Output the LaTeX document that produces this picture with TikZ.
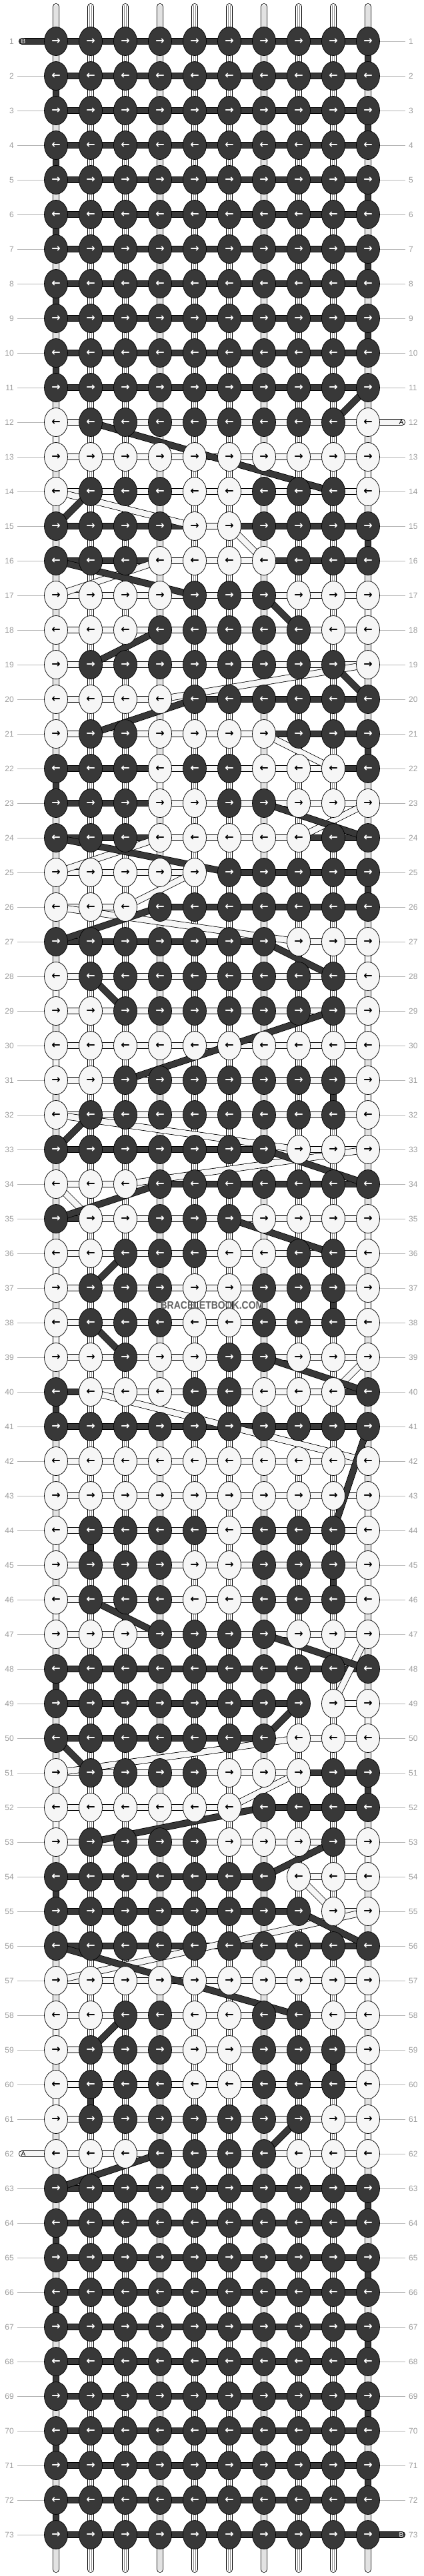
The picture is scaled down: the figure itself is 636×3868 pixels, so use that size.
\documentclass[tikz,border=0pt]{standalone}
\usepackage{fontspec}
\setmainfont{Liberation Sans}
\newfontfamily\arrowfont{DejaVu Sans Bold}
\usetikzlibrary{shapes.geometric,backgrounds}

\definecolor{KnotDark}{HTML}{383838}
\definecolor{KnotLight}{HTML}{F6F6F6}
\definecolor{NumGray}{HTML}{9C9C9C}
\definecolor{TickGray}{HTML}{B4B4B4}

\pgfdeclarelayer{warp}
\pgfsetlayers{warp,background,main}

\begin{document}
\begin{tikzpicture}[x=1pt,y=-1pt]
	\tikzstyle{Knot}    = [ellipse, draw=black, line width=0.7pt, minimum width=35pt, minimum height=43pt, inner sep=0pt, font=\arrowfont\fontsize{16}{16}\selectfont]
	\tikzstyle{StrandB} = [draw=black, line width=0.8pt, double=KnotDark, double distance=8.6pt]
	\tikzstyle{StrandA} = [draw=black, line width=0.8pt, double=KnotLight, double distance=8.6pt]
	\tikzstyle{Warp}    = [draw=black, line width=0.8pt, double=white, double distance=8.4pt, line cap=round]
	\tikzstyle{WarpIn}  = [draw=black!45, line width=0.45pt, double=white, double distance=2.8pt]
	\tikzstyle{RowNum}  = [text=NumGray, font=\fontsize{12}{12}\selectfont, inner sep=0pt]
	\tikzstyle{Tick}    = [TickGray, line width=0.8pt]
	\tikzstyle{TipText} = [font=\fontsize{10}{10}\selectfont, inner sep=0pt]
	\tikzstyle{Mark}    = [text=black!62, font=\bfseries\fontsize{16}{16}\selectfont, xscale=0.875, inner sep=0pt]

	\begin{pgfonlayer}{warp}
		\fill[white] (0,0) rectangle (636,3868);
		\useasboundingbox (0,0) rectangle (636,3868);
		% the ten warp threads
		\foreach \c in {1,...,10} {
			\coordinate (wt-\c) at ({84+52*(\c-1)},10);
			\coordinate (wb-\c) at ({84+52*(\c-1)},3858);
			\draw[Warp] (wt-\c) -- (wb-\c);
			\draw[WarpIn] ([yshift=2pt]wt-\c) -- ([yshift=-2pt]wb-\c);
		}
	\end{pgfonlayer}

	% plain dark rows at both ends
	\foreach \r in {1,...,73} {
		\pgfmathtruncatemacro\plain{(\r<12)||(\r>62)}
		\ifnum\plain=1
			\ifodd\r \def\ar{→}\else \def\ar{←}\fi
			\foreach \c in {1,...,10}
				\node[Knot, fill=KnotDark, text=white] (k-\r-\c) at ({84+52*(\c-1)},{62+52*(\r-1)}) {\ar};
			\begin{pgfonlayer}{background}
				\draw[StrandB] (k-\r-1.center) -- (k-\r-10.center);
			\end{pgfonlayer}
		\fi
	}

	% row / colours (1 = dark) / span of A / span of B
	\foreach \r/\pat/\amin/\amax/\bmin/\bmax in {
		12/{0,1,1,1,1,1,1,1,1,0}/1/10/2/9,
		13/{0,0,0,0,0,0,0,0,0,0}/1/10/0/0,
		14/{0,1,1,1,0,0,1,1,1,0}/1/10/2/9,
		15/{1,1,1,1,0,0,1,1,1,1}/5/6/1/10,
		16/{1,1,1,0,0,0,0,1,1,1}/4/7/1/10,
		17/{0,0,0,0,1,1,1,0,0,0}/1/10/5/7,
		18/{0,0,0,1,1,1,1,1,0,0}/1/10/4/8,
		19/{0,1,1,1,1,1,1,1,1,0}/1/10/2/9,
		20/{0,0,0,0,1,1,1,1,1,1}/1/4/5/10,
		21/{0,1,1,0,0,0,0,1,1,1}/1/7/2/10,
		22/{1,1,1,0,1,1,0,0,0,1}/4/9/1/10,
		23/{1,1,1,0,0,1,1,0,0,0}/4/10/1/7,
		24/{1,1,1,0,0,0,0,0,1,1}/4/8/1/10,
		25/{0,0,0,0,0,1,1,1,1,1}/1/5/6/10,
		26/{0,0,0,1,1,1,1,1,1,1}/1/3/4/10,
		27/{1,1,1,1,1,1,1,0,0,0}/8/10/1/7,
		28/{0,1,1,1,1,1,1,1,1,0}/1/10/2/9,
		29/{0,0,1,1,1,1,1,1,1,0}/1/10/3/9,
		30/{0,0,0,0,0,0,0,0,0,0}/1/10/0/0,
		31/{0,0,1,1,1,1,1,1,1,0}/1/10/3/9,
		32/{0,1,1,1,1,1,1,1,1,0}/1/10/2/9,
		33/{1,1,1,1,1,1,1,0,0,0}/8/10/1/7,
		34/{0,0,0,1,1,1,1,1,1,1}/1/3/4/10,
		35/{1,0,0,1,1,1,0,0,0,0}/2/10/1/6,
		36/{0,0,1,1,1,0,0,1,1,0}/1/10/3/9,
		37/{0,1,1,1,0,0,1,1,1,0}/1/10/2/9,
		38/{0,1,1,1,0,0,1,1,1,0}/1/10/2/9,
		39/{0,0,1,0,0,1,1,0,0,0}/1/10/3/7,
		40/{1,0,0,0,1,1,0,0,0,1}/2/9/1/10,
		41/{1,1,1,1,1,1,1,1,1,1}/0/0/1/10,
		42/{0,0,0,0,0,0,0,0,0,0}/1/10/0/0,
		43/{0,0,0,0,0,0,0,0,0,0}/1/10/0/0,
		44/{0,1,1,1,1,0,1,1,1,0}/1/10/2/9,
		45/{0,1,1,1,0,0,1,1,1,0}/1/10/2/9,
		46/{0,1,1,1,0,0,1,1,1,0}/1/10/2/9,
		47/{0,0,0,1,1,1,1,0,0,0}/1/10/4/7,
		48/{1,1,1,1,1,1,1,1,1,1}/0/0/1/10,
		49/{1,1,1,1,1,1,1,1,0,0}/9/10/1/8,
		50/{1,1,1,1,1,1,1,0,0,0}/8/10/1/7,
		51/{0,1,1,1,1,0,0,0,1,1}/1/8/2/10,
		52/{0,0,0,0,0,0,1,1,1,1}/1/6/7/10,
		53/{0,1,1,1,1,0,0,0,1,0}/1/10/2/9,
		54/{1,1,1,1,1,1,1,0,0,0}/8/10/1/7,
		55/{1,1,1,1,1,1,1,1,0,0}/9/10/1/8,
		56/{1,1,1,1,1,1,1,1,1,1}/0/0/1/10,
		57/{0,0,0,0,0,0,0,0,0,0}/1/10/0/0,
		58/{0,0,1,1,0,0,1,1,0,0}/1/10/3/8,
		59/{0,1,1,1,0,0,1,1,1,0}/1/10/2/9,
		60/{0,1,1,1,0,0,1,1,1,0}/1/10/2/9,
		61/{0,1,1,1,1,1,1,1,0,0}/1/10/2/8,
		62/{0,0,0,1,1,1,1,0,0,0}/1/10/4/7}{
		\ifodd\r \def\ar{→}\else \def\ar{←}\fi
		\foreach \v [count=\c] in \pat {
			\ifnum\v=1 \def\kf{KnotDark}\def\kt{white}\else \def\kf{KnotLight}\def\kt{black}\fi
			\node[Knot, fill=\kf, text=\kt] (k-\r-\c) at ({84+52*(\c-1)},{62+52*(\r-1)}) {\ar};
		}
		\begin{pgfonlayer}{background}
			\ifnum\bmin>0 \draw[StrandB] (k-\r-\bmin.center) -- (k-\r-\bmax.center); \fi
			\ifnum\amin>0 \draw[StrandA] (k-\r-\amin.center) -- (k-\r-\amax.center); \fi
		\end{pgfonlayer}
	}

	\begin{pgfonlayer}{background}
		% strand A from row to row
		\foreach \ra/\ca/\rb/\cb in {12/1/13/1, 13/10/14/10, 14/1/15/5, 15/6/16/7, 16/4/17/1, 17/10/18/10,
			18/1/19/1, 19/10/20/4, 20/1/21/1, 21/7/22/9, 22/4/23/4, 23/10/24/8, 24/4/25/1, 25/5/26/3,
			26/1/27/8, 27/10/28/10, 28/1/29/1, 29/10/30/10, 30/1/31/1, 31/10/32/10, 32/1/33/8, 33/10/34/3,
			34/1/35/2, 35/10/36/10, 36/1/37/1, 37/10/38/10, 38/1/39/1, 39/10/40/9, 40/2/42/10, 42/1/43/1,
			43/10/44/10, 44/1/45/1, 45/10/46/10, 46/1/47/1, 47/10/49/9, 49/10/50/10, 50/8/51/1, 51/8/52/6,
			52/1/53/1, 53/10/54/10, 54/8/55/9, 55/10/57/1, 57/10/58/10, 58/1/59/1, 59/10/60/10, 60/1/61/1,
			61/10/62/10}
			\draw[StrandA] (k-\ra-\ca.center) -- (k-\rb-\cb.center);
		% strand B from row to row
		\foreach \ra/\ca/\rb/\cb in {1/10/2/10, 2/1/3/1, 3/10/4/10, 4/1/5/1, 5/10/6/10, 6/1/7/1, 7/10/8/10,
			8/1/9/1, 9/10/10/10, 10/1/11/1, 11/10/12/9, 12/2/14/9, 14/2/15/1, 15/10/16/10, 16/1/17/5,
			17/7/18/8, 18/4/19/2, 19/9/20/10, 20/5/21/2, 21/10/22/10, 22/1/23/1, 23/7/24/10, 24/1/25/6,
			25/10/26/10, 26/4/27/1, 27/7/28/9, 28/2/29/3, 29/9/31/3, 31/9/32/9, 32/2/33/1, 33/7/34/10,
			34/4/35/1, 35/6/36/9, 36/3/37/2, 37/9/38/9, 38/2/39/3, 39/7/40/10, 40/1/41/1, 41/10/44/9,
			44/2/45/2, 45/9/46/9, 46/2/47/4, 47/7/48/10, 48/1/49/1, 49/8/50/7, 50/1/51/2, 51/10/52/10,
			52/7/53/2, 53/9/54/7, 54/1/55/1, 55/8/56/10, 56/1/58/8, 58/3/59/2, 59/9/60/9, 60/2/61/2,
			61/8/62/7, 62/4/63/1, 63/10/64/10, 64/1/65/1, 65/10/66/10, 66/1/67/1, 67/10/68/10, 68/1/69/1,
			69/10/70/10, 70/1/71/1, 71/10/72/10, 72/1/73/1}
			\draw[StrandB] (k-\ra-\ca.center) -- (k-\rb-\cb.center);

		% loose ends
		\coordinate (tipB-in) at (33,62);
		\coordinate (tipB-out) at (603,3806);
		\coordinate (tipA-in) at (603,634);
		\coordinate (tipA-out) at (33,3234);
		\draw[StrandB, line cap=round] (tipB-in) -- (k-1-1.center);
		\draw[StrandB, line cap=round] (k-73-10.center) -- (tipB-out);
		\draw[StrandA, line cap=round] (tipA-in) -- (k-12-10.center);
		\draw[StrandA, line cap=round] (k-62-1.center) -- (tipA-out);
	\end{pgfonlayer}

	\node[TipText, text=white] (endB-in) at (35,62) {B};
	\node[TipText, text=white] (endB-out) at (602,3806) {B};
	\node[TipText, text=black] (endA-in) at (602,634) {A};
	\node[TipText, text=black] (endA-out) at (35,3234) {A};

	% row numbers
	\foreach \r in {1,...,73} {
		\node[RowNum, anchor=east] (ln-\r) at (21,{10+52*\r}) {\r};
		\node[RowNum, anchor=west] (rn-\r) at (613,{10+52*\r}) {\r};
		\ifnum\r=1 \else \ifnum\r=62 \else
			\coordinate (lt-\r) at (26,{10+52*\r});
			\draw[Tick] (lt-\r) -- (k-\r-1.west);
		\fi \fi
		\ifnum\r=12 \else \ifnum\r=73 \else
			\coordinate (rt-\r) at (608,{10+52*\r});
			\draw[Tick] (k-\r-10.east) -- (rt-\r);
		\fi \fi
	}

	\node[Mark] (mark) at (318,1960) {BRACELETBOOK.COM};
\end{tikzpicture}
\end{document}
